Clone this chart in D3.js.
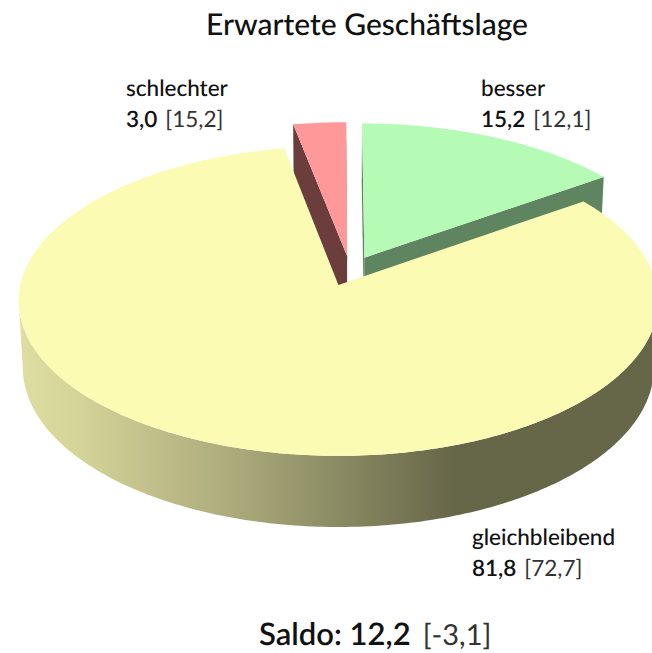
<!DOCTYPE html>
<html lang="de">
<head>
<meta charset="utf-8">
<title>Erwartete Geschäftslage</title>
<script src="https://cdn.jsdelivr.net/npm/d3@7/dist/d3.min.js"></script>
<style>
html,body{margin:0;padding:0;background:#fff;overflow:hidden}
svg{display:block}
text{font-family:Lato,"Open Sans",sans-serif;fill:#111;text-rendering:geometricPrecision}
</style>
</head>
<body>
<svg id="chart" width="652" height="653"></svg>
<script>
const title = "Erwartete Geschäftslage";
const categories = ["besser", "gleichbleibend", "schlechter"];
const values = [15.2, 81.8, 3.0];
const previousValues = [12.1, 72.7, 15.2];
const saldoLabel = "Saldo:";
const saldoValue = 12.2;
const saldoPrevious = -3.1;
const topColors = ["#b5fbb5", "#fcfbb4", "#ff9999"];
const wallColors = ["#5f8560", "#fcfbb4", "#6b3d3d"];

const fmt = d3.formatLocale({decimal:",",thousands:".",grouping:[3],currency:["","€"],minus:"-"}).format(".1f");

// perspective disk projection
const W = 652, H = 653;
const view = {x:338.5, y:285, a:318, b:153.3, k:0.103, drop:66.9, shrink:0.0127};
const explode = 0.1, shift = [0.037, 0.093];

function project(u, v, z) {
  const d = 1 + view.k * v + view.shrink * z;
  return [view.x + view.a * u / d, view.y + (-view.b * v + view.drop * z) / d];
}
const line = d3.line();
const pie = d3.pie().sort(null).startAngle(0).endAngle(2 * Math.PI);
const slices = pie(values).map((s, i) => {
  const mid = (s.startAngle + s.endAngle) / 2;
  return {...s, i, ou: explode * Math.sin(mid) + shift[0], ov: explode * Math.cos(mid) + shift[1]};
});
function rim(s, z) {
  const a0 = s.startAngle, a1 = s.endAngle;
  const n = Math.max(8, Math.ceil((a1 - a0) * 60));
  return d3.range(n + 1).map(j => {
    const a = a0 + (a1 - a0) * j / n;
    return project(s.ou + Math.sin(a), s.ov + Math.cos(a), z);
  });
}
const hub = (s, z) => project(s.ou, s.ov, z);

const svg = d3.select("#chart").attr("viewBox", `0 0 ${W} ${H}`);
const grad = svg.append("defs").append("linearGradient")
  .attr("id", "wall").attr("gradientUnits", "userSpaceOnUse")
  .attr("x1", 20).attr("x2", 652).attr("y1", 0).attr("y2", 0);
[[0, "#dedda2"], [0.1, "#d3d297"], [0.35, "#a9a87a"], [0.52, "#878761"], [0.69, "#666648"], [1, "#666648"]]
  .forEach(([o, c]) => grad.append("stop").attr("offset", o).attr("stop-color", c));

function drawWedgeWalls(s) {
  const g = svg.append("g");
  [s.startAngle, s.endAngle].forEach(a => {
    const t = project(s.ou + Math.sin(a), s.ov + Math.cos(a), 0);
    const b = project(s.ou + Math.sin(a), s.ov + Math.cos(a), 1);
    g.append("path").attr("d", line([hub(s, 0), t, b, hub(s, 1)]) + "Z").attr("fill", wallColors[s.i]);
  });
}
function drawTop(s) {
  svg.append("path").attr("d", line([hub(s, 0), ...rim(s, 0)]) + "Z").attr("fill", topColors[s.i]);
}

// rear slices first, the large front slice overlaps them
[slices[2], slices[0]].forEach(drawWedgeWalls);
[slices[2], slices[0]].forEach(drawTop);

// outer wall of the front slice: only the facets that face the viewer
const front = slices[1];
const topRim = rim(front, 0), bottomRim = rim(front, 1);
const facets = d3.pairs(d3.range(topRim.length))
  .filter(([j, k]) => topRim[k][0] < topRim[j][0])
  .map(([j, k]) => line([topRim[j], topRim[k], bottomRim[k], bottomRim[j]]) + "Z");
svg.append("path").attr("d", facets.join("")).attr("fill", "url(#wall)");
drawTop(front);

// text
svg.append("text").attr("x", 367).attr("y", 35).attr("text-anchor", "middle")
  .attr("font-size", 30).style("font-weight", 500).text(title);

const labelPos = [[481, 96], [472, 545], [126, 96]];
categories.forEach((c, i) => {
  const [x, y] = labelPos[i];
  svg.append("text").attr("x", x).attr("y", y).attr("font-size", 22.5).style("font-weight", 500).text(c);
  const t = svg.append("text").attr("x", x).attr("y", y + 31).attr("font-size", 22.5);
  t.append("tspan").style("font-weight", 600).text(fmt(values[i]));
  t.append("tspan").attr("dx", 8).style("font-weight", 400).style("fill", "#333").text(`[${fmt(previousValues[i])}]`);
});

const saldo = svg.append("text").attr("x", 259).attr("y", 645).attr("font-size", 31);
saldo.append("tspan").style("font-weight", 600).text(`${saldoLabel} ${fmt(saldoValue)}`);
saldo.append("tspan").attr("dx", 12).attr("font-size", 29).style("font-weight", 400).style("fill", "#333").text(`[${fmt(saldoPrevious)}]`);
</script>
</body>
</html>
